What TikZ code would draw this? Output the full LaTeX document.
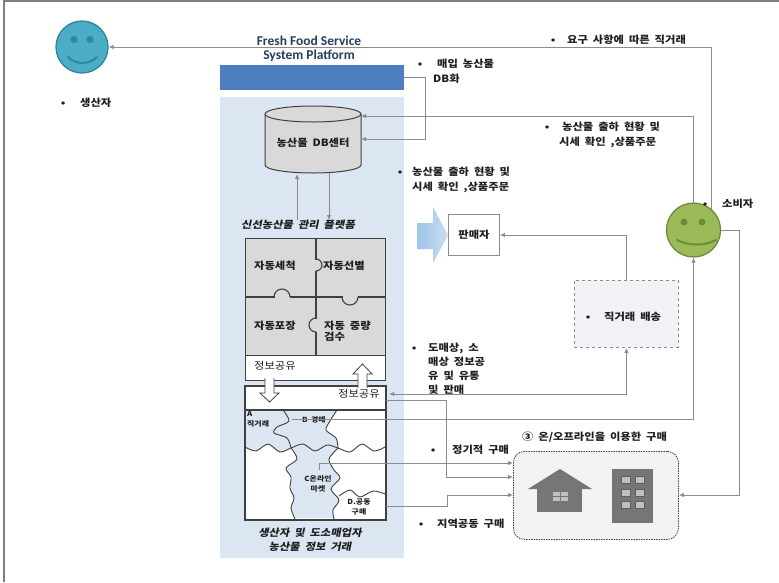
\documentclass[tikz,border=0pt]{standalone}
\usepackage{fontspec}
\setmainfont{Noto Sans CJK KR}[FakeStretch=1.13, WordSpace=1.9]
\newfontfamily\krsl{Noto Sans CJK KR}[FakeSlant=0.2, FakeStretch=1.13, WordSpace=1.9]
\newfontfamily\titlefont{Carlito}
\usetikzlibrary{arrows.meta}
\definecolor{linegray}{HTML}{8C8C8C}
\definecolor{framegray}{HTML}{7F7F7F}
\definecolor{panelblue}{HTML}{DCE6F2}
\definecolor{barblue}{HTML}{4D7FBE}
\definecolor{tealface}{HTML}{4BACC6}
\definecolor{tealedge}{HTML}{2F879F}
\definecolor{greenface}{HTML}{9BBB59}
\definecolor{greenedge}{HTML}{6E8A3A}
\definecolor{cellgray}{HTML}{D9D9D9}
\definecolor{darkline}{HTML}{404040}
\definecolor{icongray}{HTML}{767676}
\definecolor{panegray}{HTML}{BFBFBF}
\definecolor{boxfill}{HTML}{F2F2F2}
\definecolor{delivfill}{HTML}{F2F2F6}
\definecolor{titleblue}{HTML}{243F60}
\definecolor{arrowblueA}{HTML}{9DC3E6}
\definecolor{arrowblueB}{HTML}{C9DFF2}
\definecolor{ink}{HTML}{1E1E1E}
% bullet sitting at the node's left edge, text starting #1 further right
\newcommand{\bl}[1]{\makebox[#1][l]{\makebox[0pt]{•}}}
\newcommand{\ind}[1]{\hspace*{#1}}
\begin{document}
\begin{tikzpicture}[x=1pt,y=-1pt,
  conn/.style={draw=linegray, line width=0.8pt},
  arr/.style={conn, -{Latex[length=5pt,width=4.5pt]}},
  biarr/.style={conn, {Latex[length=5pt,width=4.5pt]}-{Latex[length=5pt,width=4.5pt]}},
  lbl/.style={font=\bfseries\fontsize{10}{15}\selectfont, text=ink, inner sep=0pt, anchor=west, align=left},
  plain/.style={font=\fontsize{10}{12}\selectfont, text=ink, inner sep=0pt},
  tiny/.style={font=\bfseries\fontsize{7}{10}\selectfont, text=ink, inner sep=0pt, align=center},
  slanted/.style={font=\krsl\bfseries\fontsize{10}{14}\selectfont, text=ink, inner sep=0pt, align=center},
  boxline/.style={draw=darkline, line width=1.1pt},
  wave/.style={draw=darkline, line width=0.9pt},
  block/.style={inner sep=0pt, anchor=north west},
  face/.style={circle, line width=1.3pt, inner sep=0pt}
]
\useasboundingbox (0,0) rectangle (779,582);
% outer frame
\draw[framegray, line width=1.2pt] (4,582) -- (4,1) -- (779,1);

% ---------- platform column ----------
\node[block, fill=panelblue, minimum width=184pt, minimum height=461pt] (panel) at (220,97) {};
\node[block, fill=barblue, minimum width=184pt, minimum height=25pt] (bar) at (220,65) {};
\node[font=\titlefont\bfseries\fontsize{13.5}{14}\selectfont, text=titleblue, align=center, inner sep=0pt] (title) at (309,49) {Fresh Food Service\\System Platform};

% database cylinder
\fill[cellgray] (265,114) rectangle (361,165);
\fill[cellgray] (313,165) ellipse [x radius=48pt, y radius=8pt];
\draw[darkline, line width=1pt] (265,114) -- (265,165) arc[start angle=180, end angle=360, x radius=48pt, y radius=8pt] -- (361,114);
\draw[darkline, line width=1pt, fill=cellgray] (313,114) ellipse [x radius=48pt, y radius=8pt];
\node[minimum width=96pt, minimum height=67pt, inner sep=0pt] (db) at (313,139.5) {};
\node[lbl, anchor=center] (dblabel) at (313,143) {농산물 DB센터};

\node[slanted] (platlabel) at (298,225) {신선농산물 관리 플랫폼};
\draw[arr] (platlabel.north -| 297,0) -- (297,174);
\draw[arr] (329,173) -- (platlabel.north -| 329,0);

% processing puzzle
\node[block, boxline, fill=cellgray, minimum width=140pt, minimum height=117pt] (grid) at (245,238) {};
\node[block, boxline, fill=white, minimum width=140pt, minimum height=25pt] (share1) at (245,355) {};
\draw[boxline] (316,238) -- (316,355) (245,297) -- (385,297);
% knobs: clear the joint, then draw the tab
\draw[cellgray, line width=1.6pt] (316,259.5) -- (316,270.5) (274.5,297) -- (289.5,297) (342.5,297) -- (357.5,297) (316,318.5) -- (316,331.5);
\draw[darkline, line width=1.1pt] (316,259) arc[start angle=90, end angle=-90, radius=6pt];
\draw[darkline, line width=1.1pt] (274,297) arc[start angle=180, end angle=0, radius=8pt];
\draw[darkline, line width=1.1pt] (342,297) arc[start angle=180, end angle=360, radius=8pt];
\draw[darkline, line width=1.1pt] (316,318) arc[start angle=90, end angle=270, radius=7pt];
\node[lbl] (wash) at (254,266) {자동세척};
\node[lbl] (sort) at (323,266) {자동선별};
\node[lbl] (pack) at (254,326) {자동포장};
\node[lbl, font=\bfseries\fontsize{10}{11}\selectfont] (weigh) at (324,331.5) {자동 중량\\검수};
\node[plain, anchor=west] (share1label) at (254,366) {정보공유};

% trading puzzle
\node[block, boxline, fill=white, minimum width=140pt, minimum height=133pt] (market) at (245,386) {};
\fill[panelblue] (245,411) -- (337,411)
  -- plot[smooth] coordinates {(337,411) (330,421) (326,430) (336,438) (338,448) (329,459) (334,470) (340,478) (331,489) (339,500) (333,510) (334,518)}
  -- (295,518)
  -- plot[smooth] coordinates {(295,518) (291,508) (294,498) (290,488) (291,477) (286,468) (297,459) (291,448)}
  -- plot[smooth] coordinates {(291,448) (280,452) (268,444) (256,451) (245,447)}
  -- cycle;
\draw[wave] plot[smooth] coordinates {(245,447) (256,451) (268,444) (280,452) (291,448) (303,444) (315,451) (327,445) (338,448) (350,452) (362,444) (374,451) (385,447)};
\draw[wave] plot[smooth] coordinates {(283,410) (289,421) (277,427) (274,433) (287,438) (291,448)};
\draw[wave] plot[smooth] coordinates {(337,410) (330,421) (326,430) (336,438) (338,448)};
\draw[wave] plot[smooth] coordinates {(291,448) (297,459) (286,468) (291,477) (290,488) (294,498) (291,508) (295,519)};
\draw[wave] plot[smooth] coordinates {(338,448) (329,459) (334,470) (340,478) (331,489) (339,500) (333,510) (334,519)};
\draw[wave] plot[smooth] coordinates {(339,496) (350,490) (360,497) (373,491) (385,494)};
\draw[boxline] (market.north west) rectangle (market.south east);
\draw[boxline] (245,410) -- (385,410);
\node[plain, anchor=west] (share2label) at (338,394) {정보공유};
\node[tiny, align=left, anchor=west] (labA) at (247,419.5) {A\\직거래};
\node[tiny, anchor=west] (labB) at (302,420) {B 경매};
\node[tiny] (labC) at (318,484) {C온라인\\마켓};
\node[tiny] (labD) at (359,507) {D.공동\\구매};
\node[slanted] (tradelabel) at (310,540) {생산자 및 도소매업자\\농산물 정보 거래};

% hollow transfer arrows between the two puzzles
\draw[darkline, fill=white, line width=0.8pt] (265,378) -- (265,393) -- (260,393) -- (269.5,402) -- (279,393) -- (274,393) -- (274,378);
\draw[darkline, fill=white, line width=0.8pt] (358,388) -- (358,374) -- (353,374) -- (362.5,364) -- (372,374) -- (367,374) -- (367,388);

% ---------- actors ----------
\node[face, draw=tealedge, fill=tealface, minimum size=52pt] (prod) at (82,47) {};
\fill[tealedge] (74,39.5) circle (3.5pt) (90,39.5) circle (3.5pt);
\draw[tealedge, line width=2pt, line cap=round] (68,57) .. controls (76,65) and (89,65) .. (97,57);
\node[lbl] (prodlabel) at (63,103) {\bl{17pt}생산자};

\node[face, draw=greenedge, fill=greenface, minimum size=54pt] (cons) at (693.5,230) {};
\fill[greenedge] (684,222) circle (3.5pt) (702,222) circle (3.5pt);
\draw[greenedge, line width=2pt, line cap=round] (677,240) .. controls (688,246) and (705,246) .. (716,240);
\node[lbl] (conslabel) at (705,204) {\bl{17pt}소비자};

% seller and delivery
\shade[left color=arrowblueA, right color=arrowblueB] (417,223) -- (433,223) -- (433,207) -- (448,235) -- (433,263) -- (433,249) -- (417,249) -- cycle;
\node[block, draw=linegray, line width=0.9pt, fill=white, minimum width=51pt, minimum height=41pt] (seller) at (448,214) {};
\node[lbl, anchor=center] (sellerlabel) at (seller.center) {판매자};
\node[block, draw=linegray, dashed, line width=0.9pt, fill=delivfill, minimum width=104pt, minimum height=67pt] (deliv) at (574,280) {};
\node[lbl] (delivlabel) at (588,317) {\bl{16pt}직거래 배송};

% purchase channels
\node[block, draw=darkline, dash pattern=on 1.5pt off 1pt, line width=0.8pt, rounded corners=11pt, fill=boxfill, minimum width=165pt, minimum height=88pt] (shop) at (513,451) {};
\node[lbl] (shoplabel) at (522,437) {③ 온/오프라인을 이용한 구매};
\fill[icongray] (528,489) -- (560,469) -- (592,489) -- cycle;
\fill[icongray] (537,488) rectangle (582,512);
\fill[panegray] (553,492) rectangle (568,501);
\draw[icongray, line width=1pt] (560.5,492) -- (560.5,501) (553,496.5) -- (568,496.5);
\fill[icongray] (612,469) rectangle (653,523);
\foreach \cx in {621,635} \foreach \cy in {476,489,501}
  \draw[fill=panegray, draw=icongray!80!black, line width=0.6pt] (\cx,\cy) rectangle ++(9.5,7);

% ---------- labels ----------
\node[lbl] (buylabel) at (420,71.5) {\bl{17pt}매입 농산물\\\ind{13pt}DB화};
\node[lbl] (reqlabel) at (553,40) {\bl{14pt}요구 사항에 따른 직거래};
\node[lbl] (shipR) at (547,134.5) {\bl{15pt}농산물 출하 현황 및\\\ind{12pt}시세 확인 ,상품주문};
\node[lbl] (shipL) at (400,179.5) {\bl{12pt}농산물 출하 현황 및\\\ind{12pt}시세 확인 ,상품주문};
\node[lbl, font=\bfseries\fontsize{10}{14}\selectfont] (wholesale) at (414,369) {\bl{14pt}도매상, 소\\\ind{14pt}매상 정보공\\\ind{14pt}유 및 유통\\\ind{14pt}및 판매};
\node[lbl] (regular) at (433,450) {\bl{19pt}정기적 구매};
\node[lbl] (local) at (421,524) {\bl{16pt}지역공동 구매};

% ---------- connectors ----------
\coordinate (bstart) at (292,419);
\coordinate (cstart) at (319,470);
\draw[arr] (cons.50) |- (prod.east);
\draw[arr] (cons.north) |- (db.east |- 0,116);
\draw[arr] (bar.east) -| (425,139) -- (db.east |- 0,139);
\draw[arr] (deliv.north) |- (seller.east);
\draw[biarr, shorten <=3pt] (market.east |- 0,394) -| (deliv.south);
\draw[arr] (bstart) -| (cons.south);
\draw[arr] (market.east |- 0,400) -| (446,477) -- (shop.west |- 0,477);
\draw[arr] (cstart) |- (shop.west |- 0,463);
\draw[arr] (market.east |- 0,506) -| (447,495) -- (shop.west |- 0,495);
\draw[arr] (cons.east) -| (739,495) -- (shop.east |- 0,495);
\end{tikzpicture}
\end{document}
